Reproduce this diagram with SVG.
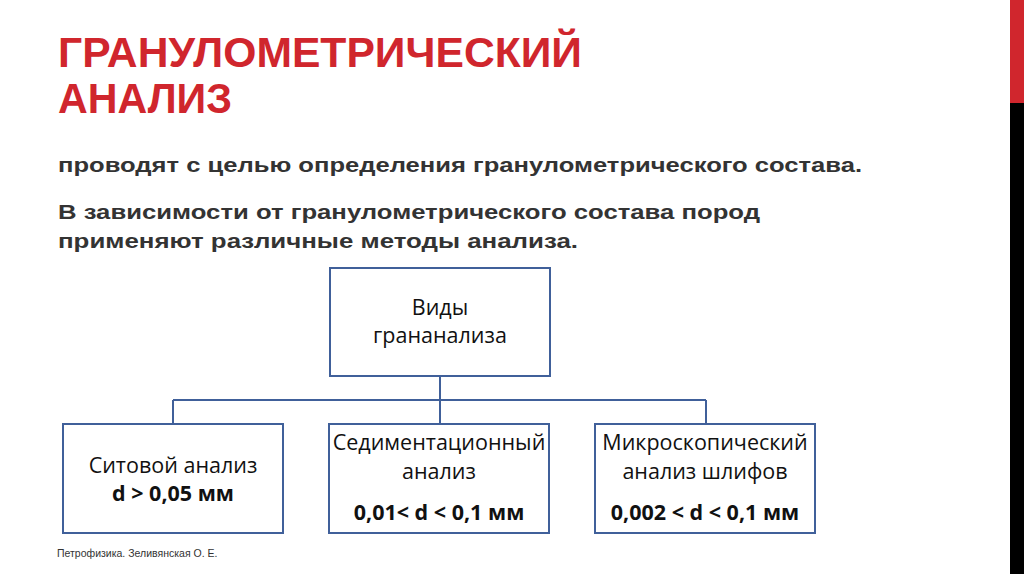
<svg xmlns="http://www.w3.org/2000/svg" width="1024" height="574" viewBox="0 0 1024 574">
<style>
.title{font-family:"Liberation Sans",Arial,sans-serif;font-weight:bold;font-size:42px;fill:#d0262d}
.sub{font-family:"Liberation Sans",Arial,sans-serif;font-weight:bold;font-size:20px;fill:#333333}
.box{fill:#ffffff;stroke:#40609a;stroke-width:2}
.lbl{font-family:"Open Sans","Liberation Sans",sans-serif;font-size:21.5px;fill:#111111;text-anchor:middle}
.b{font-weight:bold}
.conn{fill:none;stroke:#40609a;stroke-width:2}
.foot{font-family:"Liberation Sans",Arial,sans-serif;font-size:10.5px;fill:#333333}
</style>
<rect width="1024" height="574" fill="#ffffff"/>
<rect x="1010" y="0" width="14" height="103" fill="#d0262d"/>
<rect x="1010" y="103" width="14" height="471" fill="#000000"/>
<g id="title">
<text class="title" x="58" y="67" textLength="524" lengthAdjust="spacingAndGlyphs">ГРАНУЛОМЕТРИЧЕСКИЙ</text>
<text class="title" x="58" y="113" textLength="174" lengthAdjust="spacingAndGlyphs">АНАЛИЗ</text>
</g>
<g id="intro">
<text class="sub" x="58" y="172" textLength="804" lengthAdjust="spacingAndGlyphs">проводят с целью определения гранулометрического состава.</text>
<text class="sub" x="58" y="219" textLength="702" lengthAdjust="spacingAndGlyphs">В зависимости от гранулометрического состава пород</text>
<text class="sub" x="58" y="248" textLength="520" lengthAdjust="spacingAndGlyphs">применяют различные методы анализа.</text>
</g>
<g id="connectors">
<path class="conn" d="M440 376 V400 M173 400 H706 M173 400 V424 M440 400 V424 M706 400 V424"/>
</g>
<g id="root">
<rect class="box" x="330" y="268" width="220" height="108"/>
<text class="lbl" x="440" y="315">Виды</text>
<text class="lbl" x="440" y="343">грананализа</text>
</g>
<g id="sieve">
<rect class="box" x="63" y="424" width="220" height="109"/>
<text class="lbl" x="173" y="473">Ситовой анализ</text>
<text class="lbl b" x="173" y="501">d &gt; 0,05 мм</text>
</g>
<g id="sediment">
<rect class="box" x="329" y="424" width="220" height="109"/>
<text class="lbl" x="439" y="450">Седиментационный</text>
<text class="lbl" x="439" y="479">анализ</text>
<text class="lbl b" x="439" y="520">0,01&lt; d &lt; 0,1 мм</text>
</g>
<g id="micro">
<rect class="box" x="595" y="424" width="220" height="109"/>
<text class="lbl" x="705" y="450">Микроскопический</text>
<text class="lbl" x="705" y="479">анализ шлифов</text>
<text class="lbl b" x="705" y="520">0,002 &lt; d &lt; 0,1 мм</text>
</g>
<text class="foot" x="57" y="557">Петрофизика. Зеливянская О. Е.</text>
</svg>
